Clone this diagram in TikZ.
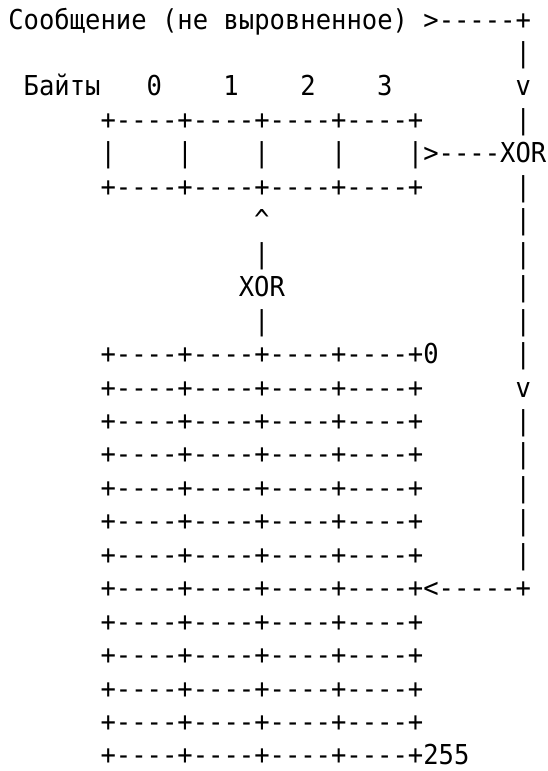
\documentclass[tikz,border=0pt]{standalone}
\usepackage{fontspec}
\setmonofont[FakeStretch=0.932]{DejaVu Sans Mono}
\tikzset{txt/.style={inner sep=0pt, outer sep=0pt, anchor=base west, font=\ttfamily\fontsize{27.4}{33.45}\selectfont, text=black}}
\newcommand{\tk}[4]{\node[txt] (#1) at ({8.3+#3*15.37},{397+(#2-12)*33.45}) {#4};}
\begin{document}
\begin{tikzpicture}[x=1pt,y=-1pt]
\fill[white] (0,0) rectangle (547,771);
\useasboundingbox (0,0) rectangle (547,771);
% row 1-3
\tk{msg}{1}{0}{Сообщение (не выровненное) >-----+}
\tk{r2}{2}{33}{|}
\tk{bytes}{3}{1}{Байты}
\tk{b0}{3}{9}{0}
\tk{b1}{3}{14}{1}
\tk{b2}{3}{19}{2}
\tk{b3}{3}{24}{3}
\tk{r3}{3}{33}{v}
% top register
\tk{regtop}{4}{6}{+----+----+----+----+}
\tk{r4}{4}{33}{|}
\tk{c0}{5}{6}{|}
\tk{c1}{5}{11}{|}
\tk{c2}{5}{16}{|}
\tk{c3}{5}{21}{|}
\tk{xr}{5}{26}{|>----XOR}
\tk{regbot}{6}{6}{+----+----+----+----+}
\tk{r6}{6}{33}{|}
% middle XOR
\tk{up}{7}{16}{\textasciicircum}
\tk{r7}{7}{33}{|}
\tk{m8}{8}{16}{|}
\tk{r8}{8}{33}{|}
\tk{xm}{9}{15}{XOR}
\tk{r9}{9}{33}{|}
\tk{m10}{10}{16}{|}
\tk{r10}{10}{33}{|}
% table
\tk{t11}{11}{6}{+----+----+----+----+0}
\tk{r11}{11}{33}{|}
\tk{t12}{12}{6}{+----+----+----+----+}
\tk{r12}{12}{33}{v}
\foreach \r in {13,...,17}{
  \tk{t\r}{\r}{6}{+----+----+----+----+}
  \tk{r\r}{\r}{33}{|}
}
\tk{t18}{18}{6}{+----+----+----+----+<-----+}
\foreach \r in {19,...,22}{
  \tk{t\r}{\r}{6}{+----+----+----+----+}
}
\tk{t23}{23}{6}{+----+----+----+----+255}
\end{tikzpicture}
\end{document}
